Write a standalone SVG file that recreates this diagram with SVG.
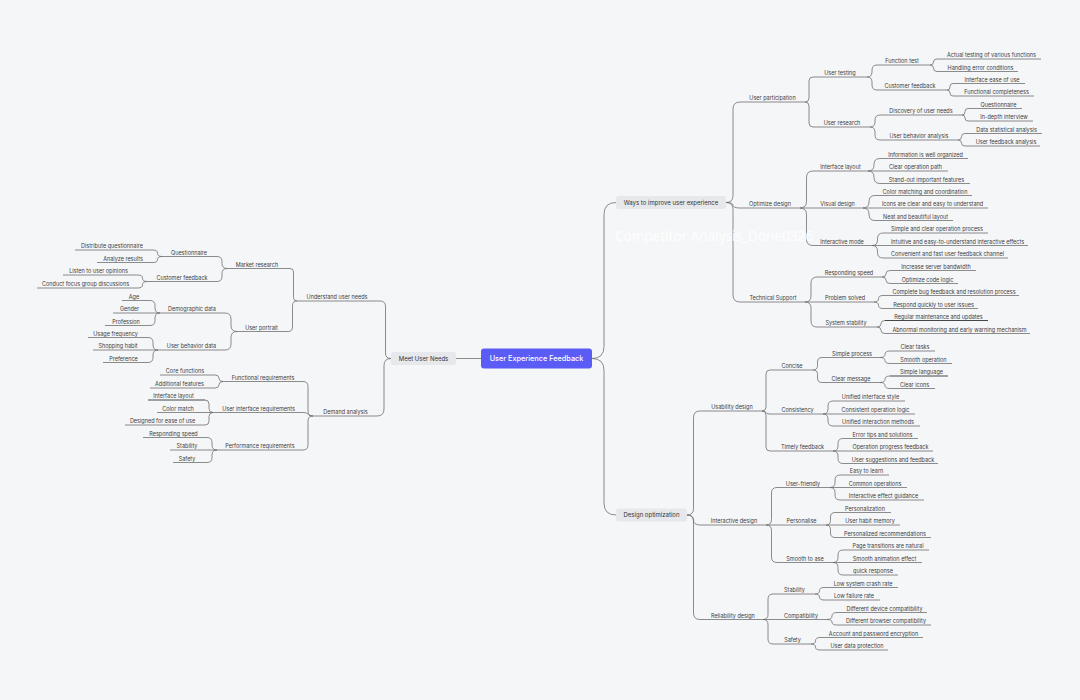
<svg xmlns="http://www.w3.org/2000/svg" width="1080" height="700" viewBox="0 0 1080 700">
<style>
.t{font-family:Inter,'Liberation Sans',sans-serif;font-size:5.5px;fill:#3d3d3d;text-anchor:middle}
.b{font-family:Inter,'Liberation Sans',sans-serif;font-size:6px;fill:#333;text-anchor:middle}
.u{stroke:#707070;stroke-width:0.8}
.ud{stroke:#333;stroke-width:0.9}
.box{fill:#e7e8eb}
#connectors path{fill:none;stroke:#707070;stroke-width:0.8}
</style>
<rect width="1080" height="700" fill="#f5f6f8"/>
<g id="connectors">
<path d="M592 358.5Q604 358.5 604 346.5V214.5Q604 202.5 616 202.5"/>
<path d="M592 358.5Q604 358.5 604 370.5V503Q604 515 616 515"/>
<path d="M726 202.5Q733 202.5 733 195.5V109Q733 102 740 102"/>
<path d="M726 202.5Q733 202.5 733 205.25Q733 208 740 208"/>
<path d="M726 202.5Q733 202.5 733 209.5V295Q733 302 740 302"/>
<path d="M805 102Q809 102 809 98V81Q809 77 813 77"/>
<path d="M805 102Q809 102 809 106V123Q809 127 813 127"/>
<path d="M867 77Q872 77 872 72V70Q872 65 877 65"/>
<path d="M867 77Q872 77 872 82V85Q872 90 877 90"/>
<path d="M930 65Q933.5 65 933.5 62Q933.5 59 937 59"/>
<path d="M930 65Q933.5 65 933.5 68.25Q933.5 71.5 937 71.5"/>
<path d="M947 90Q950 90 950 87V86.5Q950 83.5 953 83.5"/>
<path d="M947 90Q950 90 950 93Q950 96 953 96"/>
<path d="M870 127Q875 127 875 122V120Q875 115 880 115"/>
<path d="M870 127Q875 127 875 132V135Q875 140 880 140"/>
<path d="M962 115Q965 115 965 112V111.5Q965 108.5 968 108.5"/>
<path d="M962 115Q965 115 965 118Q965 121 968 121"/>
<path d="M958 140Q961.5 140 961.5 136.75Q961.5 133.5 965 133.5"/>
<path d="M958 140Q961.5 140 961.5 143Q961.5 146 965 146"/>
<path d="M800 208Q806.5 208 806.5 201.5V177.5Q806.5 171 813 171"/>
<path d="M800 208H813"/>
<path d="M800 208Q806.5 208 806.5 214.5V239Q806.5 245.5 813 245.5"/>
<path d="M868 171Q874 171 874 165V164.5Q874 158.5 880 158.5"/>
<path d="M868 171H880"/>
<path d="M868 171Q874 171 874 177V177.5Q874 183.5 880 183.5"/>
<path d="M863 208Q869 208 869 202V201.5Q869 195.5 875 195.5"/>
<path d="M863 208H875"/>
<path d="M863 208Q869 208 869 214V214.5Q869 220.5 875 220.5"/>
<path d="M872 245.5Q877.5 245.5 877.5 240V238.5Q877.5 233 883 233"/>
<path d="M872 245.5H883"/>
<path d="M872 245.5Q877.5 245.5 877.5 251V252.5Q877.5 258 883 258"/>
<path d="M805 302Q811 302 811 296V283Q811 277 817 277"/>
<path d="M805 302H817"/>
<path d="M805 302Q811 302 811 308V321Q811 327 817 327"/>
<path d="M882 277Q886 277 886 273.75Q886 270.5 890 270.5"/>
<path d="M882 277Q886 277 886 280.25Q886 283.5 890 283.5"/>
<path d="M874 302Q878.5 302 878.5 298.75Q878.5 295.5 883 295.5"/>
<path d="M874 302Q878.5 302 878.5 305.25Q878.5 308.5 883 308.5"/>
<path d="M877 327Q881 327 881 323.75Q881 320.5 885 320.5"/>
<path d="M877 327Q881 327 881 330.25Q881 333.5 885 333.5"/>
<path d="M687 515Q693.5 515 693.5 508.5V417.5Q693.5 411 700 411"/>
<path d="M687 515Q693.5 515 693.5 520Q693.5 525 700 525"/>
<path d="M687 515Q693.5 515 693.5 521.5V613Q693.5 619.5 700 619.5"/>
<path d="M762 411Q766 411 766 407V374Q766 370 770 370"/>
<path d="M762 411Q766 411 766 412.5Q766 414 770 414"/>
<path d="M762 411Q766 411 766 415V447Q766 451 770 451"/>
<path d="M813 370Q817.5 370 817.5 365.5V362Q817.5 357.5 822 357.5"/>
<path d="M813 370Q817.5 370 817.5 374.5V378Q817.5 382.5 822 382.5"/>
<path d="M880 357.5Q885 357.5 885 354.25Q885 351 890 351"/>
<path d="M880 357.5Q885 357.5 885 360.5Q885 363.5 890 363.5"/>
<path d="M880 382.5Q885 382.5 885 379.25Q885 376 890 376"/>
<path d="M880 382.5Q885 382.5 885 385.5Q885 388.5 890 388.5"/>
<path d="M823 414Q828 414 828 409V406Q828 401 833 401"/>
<path d="M823 414H833"/>
<path d="M823 414Q828 414 828 419V421Q828 426 833 426"/>
<path d="M833 451Q838 451 838 446V443.5Q838 438.5 843 438.5"/>
<path d="M833 451H843"/>
<path d="M833 451Q838 451 838 456V458.5Q838 463.5 843 463.5"/>
<path d="M766 525Q771.5 525 771.5 519.5V493Q771.5 487.5 777 487.5"/>
<path d="M766 525H777"/>
<path d="M766 525Q771.5 525 771.5 530.5V557Q771.5 562.5 777 562.5"/>
<path d="M830 487.5Q835 487.5 835 482.5V480Q835 475 840 475"/>
<path d="M830 487.5H840"/>
<path d="M830 487.5Q835 487.5 835 492.5V495Q835 500 840 500"/>
<path d="M826 525Q830.5 525 830.5 520.5V517Q830.5 512.5 835 512.5"/>
<path d="M826 525H835"/>
<path d="M826 525Q830.5 525 830.5 529.5V533Q830.5 537.5 835 537.5"/>
<path d="M833 562.5Q838 562.5 838 557.5V555Q838 550 843 550"/>
<path d="M833 562.5H843"/>
<path d="M833 562.5Q838 562.5 838 567.5V570Q838 575 843 575"/>
<path d="M763 619.5Q768 619.5 768 614.5V599Q768 594 773 594"/>
<path d="M763 619.5H773"/>
<path d="M763 619.5Q768 619.5 768 624.5V639Q768 644 773 644"/>
<path d="M815 594Q819.5 594 819.5 590.75Q819.5 587.5 824 587.5"/>
<path d="M815 594Q819.5 594 819.5 597Q819.5 600 824 600"/>
<path d="M827 619.5Q832 619.5 832 616Q832 612.5 837 612.5"/>
<path d="M827 619.5Q832 619.5 832 622.25Q832 625 837 625"/>
<path d="M811 644Q815.5 644 815.5 640.75Q815.5 637.5 820 637.5"/>
<path d="M811 644Q815.5 644 815.5 647Q815.5 650 820 650"/>
<path d="M481 358.5H456"/>
<path d="M391 358.5Q385.5 358.5 385.5 353V306.5Q385.5 301 380 301"/>
<path d="M391 358.5Q384 358.5 384 365.5V409Q384 416 377 416"/>
<path d="M297 301Q293.5 301 293.5 297.5V272Q293.5 268.5 290 268.5"/>
<path d="M297 301Q292.5 301 292.5 305.5V327Q292.5 331.5 288 331.5"/>
<path d="M227 268.5Q222 268.5 222 263.5V261.5Q222 256.5 217 256.5"/>
<path d="M227 268.5Q222 268.5 222 273.5V276.5Q222 281.5 217 281.5"/>
<path d="M162 256.5Q157.5 256.5 157.5 253.25Q157.5 250 153 250"/>
<path d="M162 256.5Q157.5 256.5 157.5 259.5Q157.5 262.5 153 262.5"/>
<path d="M147 281.5Q142.5 281.5 142.5 278.25Q142.5 275 138 275"/>
<path d="M147 281.5Q142.5 281.5 142.5 284.75Q142.5 288 138 288"/>
<path d="M237 331.5Q231 331.5 231 325.5V319Q231 313 225 313"/>
<path d="M237 331.5Q231 331.5 231 337.5V344Q231 350 225 350"/>
<path d="M160 313Q155 313 155 308V305.5Q155 300.5 150 300.5"/>
<path d="M160 313H150"/>
<path d="M160 313Q155 313 155 318V320.5Q155 325.5 150 325.5"/>
<path d="M158 350Q153 350 153 345V342.5Q153 337.5 148 337.5"/>
<path d="M158 350H148"/>
<path d="M158 350Q153 350 153 355V357.5Q153 362.5 148 362.5"/>
<path d="M313 416Q308 416 308 411V386.5Q308 381.5 303 381.5"/>
<path d="M313 416Q308 416 308 414.25Q308 412.5 303 412.5"/>
<path d="M313 416Q308 416 308 421V445Q308 450 303 450"/>
<path d="M223 381.5Q219 381.5 219 378.25Q219 375 215 375"/>
<path d="M223 381.5Q219 381.5 219 384.75Q219 388 215 388"/>
<path d="M213 412.5Q209 412.5 209 408.5V404Q209 400 205 400"/>
<path d="M213 412.5H205"/>
<path d="M213 412.5Q209 412.5 209 416.5V421Q209 425 205 425"/>
<path d="M217 450Q212 450 212 445V442.5Q212 437.5 207 437.5"/>
<path d="M217 450H207"/>
<path d="M217 450Q212 450 212 455V457.5Q212 462.5 207 462.5"/>
</g>

<g id="root"><rect x="481" y="348.5" width="111" height="20" rx="3" fill="#5b5cf6"/><text x="536.5" y="361.2" style="font-family:Inter,'Liberation Sans',sans-serif;font-size:7.3px;font-weight:500;fill:#fff;text-anchor:middle">User Experience Feedback</text></g>
<g id="meet-user-needs"><rect class="box" x="391" y="352" width="65" height="13" rx="2.5"/><text class="b" x="423.5" y="360.6">Meet User Needs</text></g>
<g id="ways"><rect class="box" x="616" y="196" width="110" height="13" rx="2.5"/><text class="b" x="671" y="204.6">Ways to improve user experience</text></g>
<g id="design-optimization"><rect class="box" x="616" y="508.5" width="71" height="13" rx="2.5"/><text class="b" x="651.5" y="517.1">Design optimization</text></g>

<g id="user-participation"><line class="u" x1="740" y1="102" x2="805" y2="102"/><text class="t" x="772.5" y="100">User participation</text></g>
<g id="optimize-design"><line class="u" x1="740" y1="208" x2="800" y2="208"/><text class="t" x="770" y="206">Optimize design</text></g>
<g id="technical-support"><line class="u" x1="740" y1="302" x2="805" y2="302"/><text class="t" x="773" y="300">Technical Support</text></g>
<g id="user-testing"><line class="u" x1="813" y1="77" x2="867" y2="77"/><text class="t" x="840" y="75">User testing</text></g>
<g id="user-research"><line class="u" x1="813" y1="127" x2="870" y2="127"/><text class="t" x="842" y="125">User research</text></g>
<g id="function-test"><line class="u" x1="877" y1="65" x2="930" y2="65"/><text class="t" x="902" y="63">Function test</text></g>
<g id="customer-feedback-r"><line class="u" x1="877" y1="90" x2="947" y2="90"/><text class="t" x="910" y="88">Customer feedback</text></g>
<g id="l-actual-testing"><line class="u" x1="937" y1="59" x2="1041" y2="59"/><text class="t" x="991.5" y="57">Actual testing of various functions</text></g>
<g id="l-handling-error"><line class="u" x1="937" y1="71.5" x2="1018" y2="71.5"/><text class="t" x="980.5" y="69.5">Handling error conditions</text></g>
<g id="l-interface-ease"><line class="u" x1="953" y1="83.5" x2="1025" y2="83.5"/><text class="t" x="992" y="81.5">Interface ease of use</text></g>
<g id="l-functional-completeness"><line class="u" x1="953" y1="96" x2="1034" y2="96"/><text class="t" x="996.5" y="94">Functional completeness</text></g>
<g id="discovery"><line class="u" x1="880" y1="115" x2="962" y2="115"/><text class="t" x="921" y="113">Discovery of user needs</text></g>
<g id="user-behavior-analysis"><line class="u" x1="880" y1="140" x2="958" y2="140"/><text class="t" x="919" y="138">User behavior analysis</text></g>
<g id="l-questionnaire-r"><line class="u" x1="968" y1="108.5" x2="1022" y2="108.5"/><text class="t" x="998.5" y="106.5">Questionnaire</text></g>
<g id="l-in-depth"><line class="u" x1="968" y1="121" x2="1033" y2="121"/><text class="t" x="1004" y="119">In-depth interview</text></g>
<g id="l-data-statistical"><line class="u" x1="965" y1="133.5" x2="1042" y2="133.5"/><text class="t" x="1006.5" y="131.5">Data statistical analysis</text></g>
<g id="l-user-feedback-analysis"><line class="u" x1="965" y1="146" x2="1040" y2="146"/><text class="t" x="1006" y="144">User feedback analysis</text></g>
<g id="interface-layout-r"><line class="u" x1="813" y1="171" x2="868" y2="171"/><text class="t" x="840.5" y="169">Interface layout</text></g>
<g id="visual-design"><line class="u" x1="813" y1="208" x2="863" y2="208"/><text class="t" x="837.5" y="206">Visual design</text></g>
<g id="interactive-mode"><line class="u" x1="813" y1="245.5" x2="872" y2="245.5"/><text class="t" x="842" y="243.5">Interactive mode</text></g>
<g id="l-info-organized"><line class="u" x1="880" y1="158.5" x2="968" y2="158.5"/><text class="t" x="925.5" y="156.5">Information is well organized</text></g>
<g id="l-clear-path"><line class="u" x1="880" y1="171" x2="948" y2="171"/><text class="t" x="915.5" y="169">Clear operation path</text></g>
<g id="l-stand-out"><line class="u" x1="880" y1="183.5" x2="970" y2="183.5"/><text class="t" x="926.5" y="181.5">Stand-out important features</text></g>
<g id="l-color-matching"><line class="u" x1="875" y1="195.5" x2="972" y2="195.5"/><text class="t" x="925" y="193.5">Color matching and coordination</text></g>
<g id="l-icons-clear"><line class="u" x1="875" y1="208" x2="988" y2="208"/><text class="t" x="932.5" y="206">Icons are clear and easy to understand</text></g>
<g id="l-neat-layout"><line class="u" x1="875" y1="220.5" x2="953" y2="220.5"/><text class="t" x="915.5" y="218.5">Neat and beautiful layout</text></g>
<g id="l-simple-clear"><line class="u" x1="883" y1="233" x2="988" y2="233"/><text class="t" x="937" y="231">Simple and clear operation process</text></g>
<g id="l-intuitive"><line class="u" x1="883" y1="245.5" x2="1028" y2="245.5"/><text class="t" x="957.5" y="243.5">Intuitive and easy-to-understand interactive effects</text></g>
<g id="l-convenient"><line class="u" x1="883" y1="258" x2="1008" y2="258"/><text class="t" x="947.5" y="256">Convenient and fast user feedback channel</text></g>
<g id="responding-speed-r"><line class="u" x1="817" y1="277" x2="882" y2="277"/><text class="t" x="849" y="275">Responding speed</text></g>
<g id="problem-solved"><line class="u" x1="817" y1="302" x2="874" y2="302"/><text class="t" x="845" y="300">Problem solved</text></g>
<g id="system-stability"><line class="u" x1="817" y1="327" x2="877" y2="327"/><text class="t" x="846" y="325">System stability</text></g>
<g id="l-bandwidth"><line class="u" x1="890" y1="270.5" x2="976" y2="270.5"/><text class="t" x="936" y="268.5">Increase server bandwidth</text></g>
<g id="l-code-logic"><line class="u" x1="890" y1="283.5" x2="958" y2="283.5"/><text class="t" x="927.5" y="281.5">Optimize code logic</text></g>
<g id="l-bug-feedback"><line class="u" x1="883" y1="295.5" x2="1019" y2="295.5"/><text class="t" x="954" y="293.5">Complete bug feedback and resolution process</text></g>
<g id="l-respond-quickly"><line class="u" x1="883" y1="308.5" x2="978" y2="308.5"/><text class="t" x="933.5" y="306.5">Respond quickly to user issues</text></g>
<g id="l-regular-maintenance"><line class="ud" x1="885" y1="320.5" x2="988" y2="320.5"/><text class="t" x="938.5" y="318.5">Regular maintenance and updates</text></g>
<g id="l-abnormal"><line class="u" x1="885" y1="333.5" x2="1030" y2="333.5"/><text class="t" x="959.5" y="331.5">Abnormal monitoring and early warning mechanism</text></g>

<g id="usability-design"><line class="u" x1="700" y1="411" x2="762" y2="411"/><text class="t" x="732" y="409">Usability design</text></g>
<g id="interactive-design"><line class="u" x1="700" y1="525" x2="766" y2="525"/><text class="t" x="734" y="523">Interactive design</text></g>
<g id="reliability-design"><line class="u" x1="700" y1="619.5" x2="763" y2="619.5"/><text class="t" x="733" y="617.5">Reliability design</text></g>
<g id="concise"><line class="u" x1="770" y1="370" x2="813" y2="370"/><text class="t" x="792" y="368">Concise</text></g>
<g id="consistency"><line class="u" x1="770" y1="414" x2="823" y2="414"/><text class="t" x="797.5" y="412">Consistency</text></g>
<g id="timely-feedback"><line class="u" x1="770" y1="451" x2="833" y2="451"/><text class="t" x="802.5" y="449">Timely feedback</text></g>
<g id="simple-process"><line class="u" x1="822" y1="357.5" x2="880" y2="357.5"/><text class="t" x="852" y="355.5">Simple process</text></g>
<g id="clear-message"><line class="u" x1="822" y1="382.5" x2="880" y2="382.5"/><text class="t" x="851" y="380.5">Clear message</text></g>
<g id="l-clear-tasks"><line class="u" x1="890" y1="351" x2="935" y2="351"/><text class="t" x="915" y="349">Clear tasks</text></g>
<g id="l-smooth-operation"><line class="u" x1="890" y1="363.5" x2="952" y2="363.5"/><text class="t" x="923.5" y="361.5">Smooth operation</text></g>
<g id="l-simple-language"><line class="ud" x1="890" y1="376" x2="948" y2="376"/><text class="t" x="921.5" y="374">Simple language</text></g>
<g id="l-clear-icons"><line class="u" x1="890" y1="388.5" x2="935" y2="388.5"/><text class="t" x="914.5" y="386.5">Clear icons</text></g>
<g id="l-unified-style"><line class="u" x1="833" y1="401" x2="905" y2="401"/><text class="t" x="870.5" y="399">Unified interface style</text></g>
<g id="l-consistent-logic"><line class="u" x1="833" y1="414" x2="915" y2="414"/><text class="t" x="875.5" y="412">Consistent operation logic</text></g>
<g id="l-unified-methods"><line class="u" x1="833" y1="426" x2="920" y2="426"/><text class="t" x="878" y="424">Unified interaction methods</text></g>
<g id="l-error-tips"><line class="u" x1="843" y1="438.5" x2="918" y2="438.5"/><text class="t" x="882.5" y="436.5">Error tips and solutions</text></g>
<g id="l-progress-feedback"><line class="u" x1="843" y1="451" x2="933" y2="451"/><text class="t" x="890.5" y="449">Operation progress feedback</text></g>
<g id="l-user-suggestions"><line class="u" x1="843" y1="463.5" x2="938" y2="463.5"/><text class="t" x="893" y="461.5">User suggestions and feedback</text></g>
<g id="user-friendly"><line class="u" x1="777" y1="487.5" x2="830" y2="487.5"/><text class="t" x="803" y="485.5">User-friendly</text></g>
<g id="personalise"><line class="u" x1="777" y1="525" x2="826" y2="525"/><text class="t" x="801.5" y="523">Personalise</text></g>
<g id="smooth-to-ase"><line class="u" x1="777" y1="562.5" x2="833" y2="562.5"/><text class="t" x="805" y="560.5">Smooth to ase</text></g>
<g id="l-easy-learn"><line class="u" x1="840" y1="475" x2="889" y2="475"/><text class="t" x="866.5" y="473">Easy to learn</text></g>
<g id="l-common-ops"><line class="u" x1="840" y1="487.5" x2="907" y2="487.5"/><text class="t" x="875" y="485.5">Common operations</text></g>
<g id="l-effect-guidance"><line class="u" x1="840" y1="500" x2="924" y2="500"/><text class="t" x="883.5" y="498">Interactive effect guidance</text></g>
<g id="l-personalization"><line class="u" x1="835" y1="512.5" x2="891" y2="512.5"/><text class="t" x="865" y="510.5">Personalization</text></g>
<g id="l-habit-memory"><line class="u" x1="835" y1="525" x2="900" y2="525"/><text class="t" x="870" y="523">User habit memory</text></g>
<g id="l-recommendations"><line class="u" x1="835" y1="537.5" x2="931" y2="537.5"/><text class="t" x="885" y="535.5">Personalized recommendations</text></g>
<g id="l-page-transitions"><line class="u" x1="843" y1="550" x2="929" y2="550"/><text class="t" x="888" y="548">Page transitions are natural</text></g>
<g id="l-smooth-animation"><line class="u" x1="843" y1="562.5" x2="922" y2="562.5"/><text class="t" x="884.5" y="560.5">Smooth animation effect</text></g>
<g id="l-quick-response"><line class="u" x1="843" y1="575" x2="898" y2="575"/><text class="t" x="873" y="573">quick response</text></g>
<g id="stability-r"><line class="u" x1="773" y1="594" x2="815" y2="594"/><text class="t" x="794.5" y="592">Stability</text></g>
<g id="compatibility"><line class="u" x1="773" y1="619.5" x2="827" y2="619.5"/><text class="t" x="801" y="617.5">Compatibility</text></g>
<g id="safety-r"><line class="u" x1="773" y1="644" x2="811" y2="644"/><text class="t" x="792.5" y="642">Safety</text></g>
<g id="l-crash-rate"><line class="u" x1="824" y1="587.5" x2="898" y2="587.5"/><text class="t" x="863" y="585.5">Low system crash rate</text></g>
<g id="l-failure-rate"><line class="u" x1="824" y1="600" x2="880" y2="600"/><text class="t" x="854" y="598">Low failure rate</text></g>
<g id="l-device-compat"><line class="u" x1="837" y1="612.5" x2="927" y2="612.5"/><text class="t" x="884.5" y="610.5">Different device compatibility</text></g>
<g id="l-browser-compat"><line class="u" x1="837" y1="625" x2="931" y2="625"/><text class="t" x="886" y="623">Different browser compatibility</text></g>
<g id="l-encryption"><line class="u" x1="820" y1="637.5" x2="923" y2="637.5"/><text class="t" x="873.5" y="635.5">Account and password encryption</text></g>
<g id="l-data-protection"><line class="u" x1="820" y1="650" x2="888" y2="650"/><text class="t" x="857" y="648">User data protection</text></g>

<g id="understand-user-needs"><line class="u" x1="297" y1="301" x2="380" y2="301"/><text class="t" x="337" y="299">Understand user needs</text></g>
<g id="demand-analysis"><line class="u" x1="313" y1="416" x2="377" y2="416"/><text class="t" x="345.5" y="414">Demand analysis</text></g>
<g id="market-research"><line class="u" x1="227" y1="268.5" x2="290" y2="268.5"/><text class="t" x="257" y="266.5">Market research</text></g>
<g id="user-portrait"><line class="u" x1="237" y1="331.5" x2="288" y2="331.5"/><text class="t" x="261.5" y="329.5">User portrait</text></g>
<g id="questionnaire-l"><line class="u" x1="162" y1="256.5" x2="217" y2="256.5"/><text class="t" x="189" y="254.5">Questionnaire</text></g>
<g id="customer-feedback-l"><line class="u" x1="147" y1="281.5" x2="217" y2="281.5"/><text class="t" x="182" y="279.5">Customer feedback</text></g>
<g id="l-distribute"><line class="u" x1="75" y1="250" x2="153" y2="250"/><text class="t" x="112" y="248">Distribute questionnaire</text></g>
<g id="l-analyze"><line class="u" x1="97" y1="262.5" x2="153" y2="262.5"/><text class="t" x="123" y="260.5">Analyze results</text></g>
<g id="l-listen"><line class="u" x1="63" y1="275" x2="138" y2="275"/><text class="t" x="98.5" y="273">Listen to user opinions</text></g>
<g id="l-focus-group"><line class="u" x1="37" y1="288" x2="138" y2="288"/><text class="t" x="85.5" y="286">Conduct focus group discussions</text></g>
<g id="demographic-data"><line class="u" x1="160" y1="313" x2="225" y2="313"/><text class="t" x="192" y="311">Demographic data</text></g>
<g id="user-behavior-data"><line class="u" x1="158" y1="350" x2="225" y2="350"/><text class="t" x="191.5" y="348">User behavior data</text></g>
<g id="l-age"><line class="u" x1="122" y1="300.5" x2="150" y2="300.5"/><text class="t" x="134" y="298.5">Age</text></g>
<g id="l-gender"><line class="u" x1="113" y1="313" x2="150" y2="313"/><text class="t" x="129.5" y="311">Gender</text></g>
<g id="l-profession"><line class="u" x1="105" y1="325.5" x2="150" y2="325.5"/><text class="t" x="126" y="323.5">Profession</text></g>
<g id="l-usage-frequency"><line class="u" x1="88" y1="337.5" x2="148" y2="337.5"/><text class="t" x="115.5" y="335.5">Usage frequency</text></g>
<g id="l-shopping-habit"><line class="u" x1="93" y1="350" x2="148" y2="350"/><text class="t" x="118" y="348">Shopping habit</text></g>
<g id="l-preference"><line class="u" x1="103" y1="362.5" x2="148" y2="362.5"/><text class="t" x="123.5" y="360.5">Preference</text></g>
<g id="functional-requirements"><line class="u" x1="223" y1="381.5" x2="303" y2="381.5"/><text class="t" x="263" y="379.5">Functional requirements</text></g>
<g id="ui-requirements"><line class="u" x1="213" y1="412.5" x2="303" y2="412.5"/><text class="t" x="258.5" y="410.5">User interface requirements</text></g>
<g id="performance-requirements"><line class="u" x1="217" y1="450" x2="303" y2="450"/><text class="t" x="260" y="448">Performance requirements</text></g>
<g id="l-core-functions"><line class="u" x1="160" y1="375" x2="215" y2="375"/><text class="t" x="185" y="373">Core functions</text></g>
<g id="l-additional"><line class="u" x1="150" y1="388" x2="215" y2="388"/><text class="t" x="179.5" y="386">Additional features</text></g>
<g id="l-interface-layout-l"><line class="ud" x1="148" y1="400" x2="205" y2="400"/><text class="t" x="173.5" y="398">Interface layout</text></g>
<g id="l-color-match"><line class="u" x1="157" y1="412.5" x2="205" y2="412.5"/><text class="t" x="178" y="410.5">Color match</text></g>
<g id="l-ease-of-use"><line class="u" x1="125" y1="425" x2="205" y2="425"/><text class="t" x="162.5" y="423">Designed for ease of use</text></g>
<g id="l-responding-speed-l"><line class="u" x1="143" y1="437.5" x2="207" y2="437.5"/><text class="t" x="173.5" y="435.5">Responding speed</text></g>
<g id="l-stability-l"><line class="u" x1="170" y1="450" x2="207" y2="450"/><text class="t" x="187" y="448">Stability</text></g>
<g id="l-safety-l"><line class="u" x1="173" y1="462.5" x2="207" y2="462.5"/><text class="t" x="187" y="460.5">Safety</text></g>

<text x="615" y="241" style="font-family:'Noto Sans',sans-serif;font-size:13.5px;fill:#ffffff;fill-opacity:0.9">Competitor Analysis_Done0326</text>
</svg>
